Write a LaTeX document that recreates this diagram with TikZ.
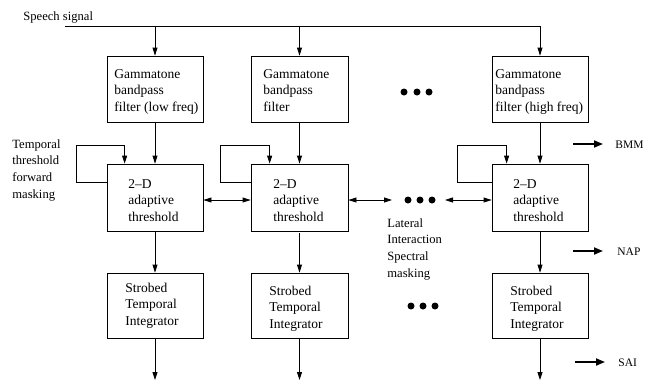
\documentclass[tikz,border=0pt]{standalone}
\usepackage{fontspec}
\setmainfont{Liberation Serif}
\usetikzlibrary{arrows.meta}
\begin{document}
\begin{tikzpicture}[x=1pt,y=-1pt,line width=0.8pt,
  box/.style={draw,minimum width=96pt,inner sep=0pt},
  btxt/.style={anchor=base west,align=left,inner sep=0pt,font=\fontsize{13.5}{16.5}\selectfont},
  ltxt/.style={anchor=base west,align=left,inner sep=0pt,font=\fontsize{12.6}{16.8}\selectfont},
  otxt/.style={anchor=base west,inner sep=0pt,font=\fontsize{11.5}{14}\selectfont},
  arr/.style={-{Triangle[length=8pt,width=5pt]}},
  darr/.style={{Triangle[length=8pt,width=5pt]}-{Triangle[length=8pt,width=5pt]}},
  tarr/.style={line width=1.8pt,-{Triangle[length=9pt,width=7pt]}},
  dot/.style={circle,fill,inner sep=0pt,minimum size=7pt}]
\useasboundingbox (0,0) rectangle (646,381);

% boxes
\node[box,minimum height=66pt] (f1) at (155,89) {};
\node[box,minimum height=66pt,minimum width=97pt] (f2) at (299.5,89) {};
\node[box,minimum height=66pt] (f3) at (540,89) {};
\node[box,minimum height=67pt] (t1) at (155,197.5) {};
\node[box,minimum height=67pt,minimum width=97pt] (t2) at (299.5,197.5) {};
\node[box,minimum height=67pt] (t3) at (540,197.5) {};
\node[box,minimum height=65pt] (s1) at (155,305.5) {};
\node[box,minimum height=65pt,minimum width=97pt] (s2) at (299.5,305.5) {};
\node[box,minimum height=65pt] (s3) at (540,305.5) {};

% box texts (anchor = baseline of last line)
\node[btxt] (f1t) at (114,111) {Gammatone\\bandpass\\filter (low freq)};
\node[btxt] (f2t) at (263,111) {Gammatone\\bandpass\\filter};
\node[btxt] (f3t) at (495,111) {Gammatone\\bandpass\\filter (high freq)};
\node[btxt] (t1t) at (128,221) {2--D\\adaptive\\threshold};
\node[btxt] (t2t) at (273,221) {2--D\\adaptive\\threshold};
\node[btxt] (t3t) at (513,221) {2--D\\adaptive\\threshold};
\node[btxt] (s1t) at (125,325) {Strobed\\Temporal\\Integrator};
\node[btxt] (s2t) at (269,328) {Strobed\\Temporal\\Integrator};
\node[btxt] (s3t) at (510,328) {Strobed\\Temporal\\Integrator};

% labels
\node[ltxt] (speech) at (23,20) {Speech signal};
\node[ltxt] (tmask) at (12,198.5) {Temporal\\threshold\\forward\\masking};
\node[ltxt] (lat) at (387,277.5) {Lateral\\Interaction\\Spectral\\masking};

% speech signal line
\coordinate (sigstart) at (65,26);
\coordinate (sigend) at (540,26);
\draw (sigstart) -- (sigend);
\draw[arr] (sigend) -- (f3.north);
\draw[arr] (f1.north |- sigstart) -- (f1.north);
\draw[arr] (f2.north |- sigstart) -- (f2.north);

% filter -> threshold
\draw[arr] (f1.south) -- (t1.north);
\draw[arr] (f2.south) -- (t2.north);
\draw[arr] (f3.south) -- (t3.north);

% feedback loops
\draw[arr] ([yshift=-19pt]t1.north west) -- ++(-30,0) |- ([xshift=18pt,yshift=18pt]t1.north west) -- ([xshift=18pt]t1.north west);
\draw[arr] ([yshift=-19pt]t2.north west) -- ++(-30,0) |- ([xshift=19pt,yshift=18pt]t2.north west) -- ([xshift=19pt]t2.north west);
\draw[arr] ([yshift=-19pt]t3.north west) -- ++(-34,0) |- ([xshift=15pt,yshift=18pt]t3.north west) -- ([xshift=15pt]t3.north west);

% lateral
\coordinate (dl) at (392,200);
\coordinate (dr) at (445,200);
\draw[darr] ([yshift=-2.5pt]t1.east) -- ([yshift=-2.5pt]t2.west);
\draw[darr] ([yshift=-2.5pt]t2.east) -- (dl);
\draw[darr] (dr) -- ([yshift=-2.5pt]t3.west);

% threshold -> integrator
\draw[arr] (t1.south) -- (s1.north);
\draw[arr] ([yshift=-2pt]t2.south) -- (s2.north);
\draw[arr] (t3.south) -- (s3.north);

% outputs
\coordinate (o1) at (155,380);
\coordinate (o2) at (299.5,380);
\coordinate (o3) at (540,380);
\draw[arr] (s1.south) -- (o1);
\draw[arr] (s2.south) -- (o2);
\draw[arr] (s3.south) -- (o3);

% dots
\node[dot] (a1) at (404,92) {};
\node[dot] (a2) at (417,92) {};
\node[dot] (a3) at (429,92) {};
\node[dot] (b1) at (408,200) {};
\node[dot] (b2) at (420,200) {};
\node[dot] (b3) at (432,200) {};
\node[dot] (c1) at (411,306) {};
\node[dot] (c2) at (423,306) {};
\node[dot] (c3) at (435,306) {};

% output markers
\coordinate (bmmS) at (573,144);
\coordinate (bmmE) at (603,144);
\coordinate (napS) at (573,251);
\coordinate (napE) at (603,251);
\coordinate (saiS) at (575,362);
\coordinate (saiE) at (605,362);
\draw[tarr] (bmmS) -- (bmmE);
\draw[tarr] (napS) -- (napE);
\draw[tarr] (saiS) -- (saiE);
\node[otxt] (bmm) at (615,148) {BMM};
\node[otxt] (nap) at (617,255) {NAP};
\node[otxt] (sai) at (618,366) {SAI};
\end{tikzpicture}
\end{document}
